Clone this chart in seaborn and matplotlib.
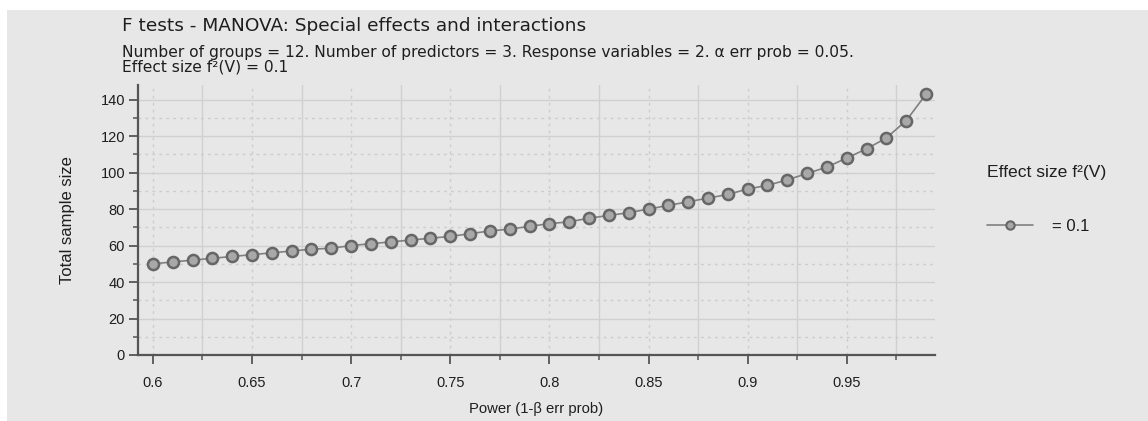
import matplotlib
matplotlib.use("Agg")
import matplotlib.pyplot as plt
import seaborn as sns
import pandas as pd
from matplotlib.ticker import MultipleLocator, FuncFormatter
from matplotlib.patches import Rectangle
from matplotlib.lines import Line2D

# ---- data ----
power = [0.60, 0.61, 0.62, 0.63, 0.64, 0.65, 0.66, 0.67, 0.68, 0.69,
         0.70, 0.71, 0.72, 0.73, 0.74, 0.75, 0.76, 0.77, 0.78, 0.79,
         0.80, 0.81, 0.82, 0.83, 0.84, 0.85, 0.86, 0.87, 0.88, 0.89,
         0.90, 0.91, 0.92, 0.93, 0.94, 0.95, 0.96, 0.97, 0.98, 0.99]
sample_size = [50, 51, 52, 53, 54, 55, 56, 57, 58, 58.5,
               60, 61, 62, 63, 64, 65, 66.5, 68, 69, 70.5,
               72, 73, 75, 76.5, 78, 80, 82, 84, 86, 88,
               91, 93, 96, 99.5, 103, 108, 113, 119, 128.5, 143]
effect_label = "= 0.1"
legend_title = "Effect size f²(V)"
title = "F tests - MANOVA: Special effects and interactions"
subtitle_1 = ("Number of groups = 12. Number of predictors = 3. Response variables = 2. "
              "α err prob = 0.05.")
subtitle_2 = "Effect size f²(V) = 0.1"
x_label = "Power (1-β err prob)"
y_label = "Total sample size"

df = pd.DataFrame({"power": power, "n": sample_size, "es": effect_label})

sns.set_theme(style="white")
plt.rcParams["font.family"] = ["Liberation Sans", "DejaVu Sans"]
wide = ["DejaVu Sans"]

W, H = 1148, 421
bg = "#e7e7e7"
txt = "#1e1e1e"
spine_c = "#555555"

fig = plt.figure(figsize=(W / 100, H / 100), dpi=100)
fig.patch.set_facecolor("white")
fig.patches.append(Rectangle((7 / W, 0), 1 - 7 / W, (H - 10) / H,
                             transform=fig.transFigure, facecolor=bg,
                             edgecolor="none", zorder=-10))

ax = fig.add_axes([138 / W, (H - 355) / H, (935 - 138) / W, (355 - 85) / H])
ax.set_facecolor(bg)

sns.lineplot(data=df, x="power", y="n", hue="es", palette=["#808080"],
             marker="o", markersize=8, markerfacecolor="#a8a8a8",
             markeredgecolor="#666666", markeredgewidth=1.8, linewidth=1.2,
             legend=False, ax=ax, zorder=3)

ax.set_xlim(0.5925, 0.9945)
ax.set_ylim(0, 148)
ax.xaxis.set_major_locator(MultipleLocator(0.05))
ax.xaxis.set_minor_locator(MultipleLocator(0.025))
ax.yaxis.set_major_locator(MultipleLocator(20))
ax.yaxis.set_minor_locator(MultipleLocator(10))
ax.xaxis.set_major_formatter(FuncFormatter(lambda v, p: f"{v:g}"))

dot = (0, (2, 3))
ax.grid(which="major", axis="y", color="#d0d0d0", linestyle="-", linewidth=1.0)
ax.grid(which="minor", axis="y", color="#cdcdcd", linestyle=dot, linewidth=1.0)
ax.grid(which="major", axis="x", color="#cdcdcd", linestyle=dot, linewidth=1.0)
ax.grid(which="minor", axis="x", color="#d0d0d0", linestyle="-", linewidth=1.0)
ax.set_axisbelow(True)

for s in ["top", "right"]:
    ax.spines[s].set_visible(False)
for s in ["left", "bottom"]:
    ax.spines[s].set_color(spine_c)
    ax.spines[s].set_linewidth(1.6)

ax.tick_params(which="major", direction="out", length=6.3, width=1.3,
               color=spine_c, labelsize=10.5, labelcolor=txt,
               bottom=True, left=True)
ax.tick_params(which="minor", direction="out", length=3.8, width=1.1,
               color=spine_c, bottom=True, left=True)
ax.tick_params(axis="x", which="major", pad=8.5)
ax.tick_params(axis="y", which="major", pad=3)

ax.set_xlabel(x_label, fontsize=10.7, color=txt, labelpad=9)
ax.set_ylabel(y_label, fontsize=12, color=txt, labelpad=18)

fig.text(122 / W, 1 - 31 / H, title, fontsize=13.3, color=txt,
         va="baseline", family=wide)
fig.text(122 / W, 1 - 57 / H, subtitle_1, fontsize=11.2, color=txt,
         va="baseline", family=wide)
fig.text(122 / W, 1 - 72 / H, subtitle_2, fontsize=11.2, color=txt,
         va="baseline", family=wide)

handle = Line2D([], [], color="#808080", linewidth=1.2, marker="o",
                markersize=6, markerfacecolor="#a8a8a8",
                markeredgecolor="#666666", markeredgewidth=1.5)
leg = ax.legend([handle], [effect_label], title=legend_title,
                loc="upper left", bbox_to_anchor=(987 / W, 1 - 165 / H),
                bbox_transform=fig.transFigure, frameon=False,
                fontsize=12, title_fontsize=12.6, handlelength=2.75,
                handletextpad=1.15, labelspacing=2.33, borderpad=0,
                borderaxespad=0, alignment="left")
for t in leg.get_texts():
    t.set_color(txt)
leg.get_title().set_color(txt)

fig.savefig("out.png", dpi=100, facecolor=fig.get_facecolor())
